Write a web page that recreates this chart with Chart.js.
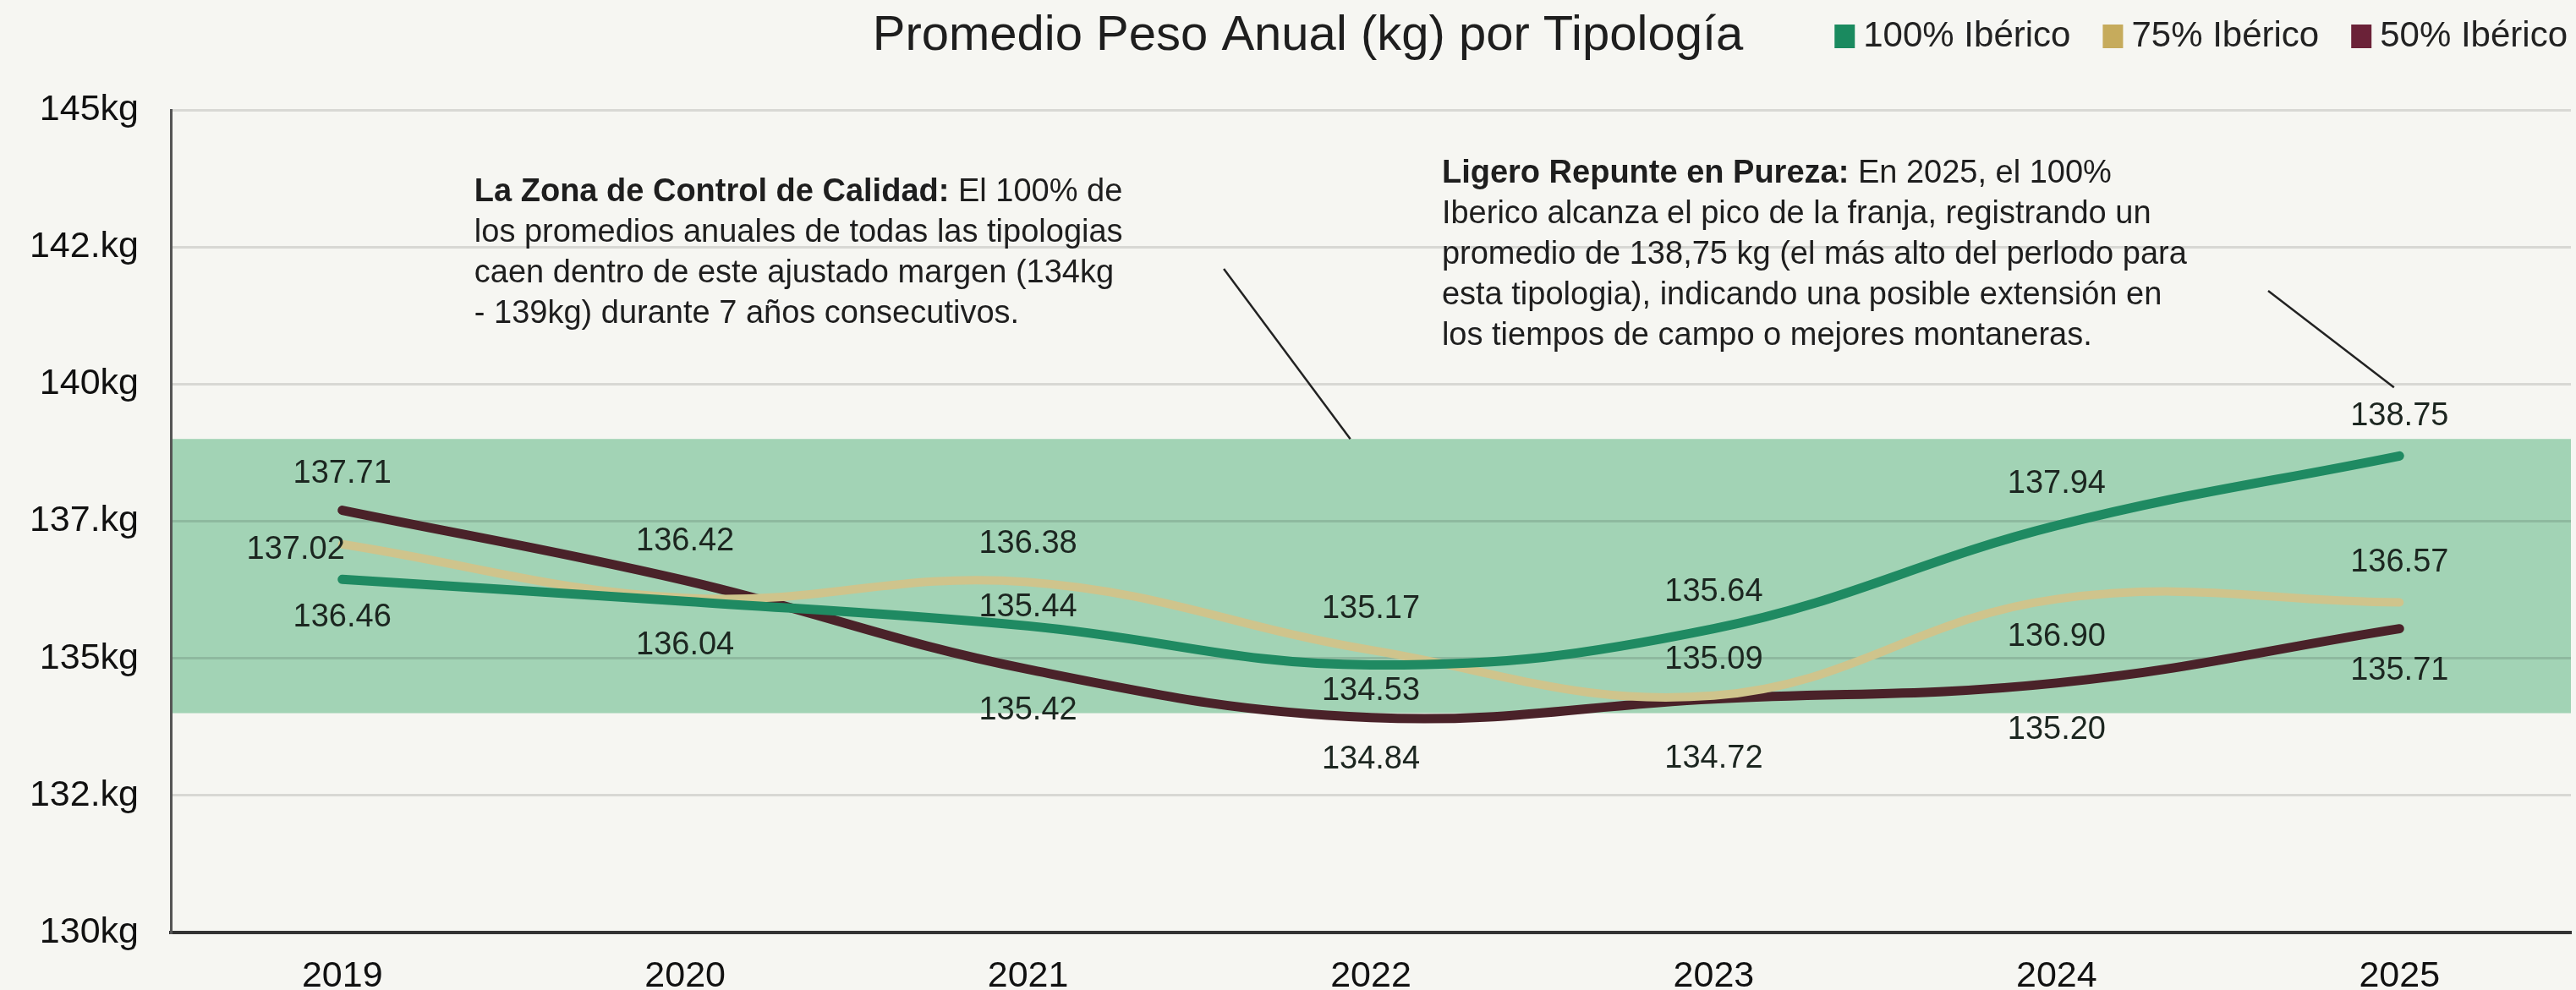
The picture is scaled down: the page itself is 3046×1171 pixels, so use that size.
<!DOCTYPE html>
<html>
<head>
<meta charset="utf-8">
<script src="https://cdn.jsdelivr.net/npm/chart.js@4.4.1/dist/chart.umd.min.js"></script>
<style>
html, body { margin: 0; padding: 0; background: #f6f6f2; }
#wrap { width: 3046px; height: 1171px; position: relative; }
</style>
</head>
<body>
<div id="wrap"><canvas id="chart"></canvas></div>
<script>
// data
const years = ['2019', '2020', '2021', '2022', '2023', '2024', '2025'];
const iberico100 = [136.44, 136.04, 135.59, 134.88, 135.54, 137.42, 138.69];
const iberico75 = [137.08, 136.10, 136.39, 135.15, 134.32, 136.08, 136.02];
const iberico50 = [137.70, 136.42, 134.80, 133.92, 134.26, 134.55, 135.54];

// printed value labels (as they appear in the picture)
const labels100 = ['136.46', '136.04', '135.44', '134.53', '135.64', '137.94', '138.75'];
const labels75 = ['137.02', '', '136.38', '135.17', '135.09', '136.90', '136.57'];
const labels50 = ['137.71', '136.42', '135.42', '134.84', '134.72', '135.20', '135.71'];

const yTickLabels = ['130kg', '132.kg', '135kg', '137.kg', '140kg', '142.kg', '145kg'];
const bandRange = [134, 139];

const FONT = '"Liberation Sans", Arial, sans-serif';
Chart.defaults.font.family = FONT;

// green quality band, drawn under the grid
const bandPlugin = {
    id: 'band',
    beforeDraw(chart) {
        let ctx = chart.ctx, a = chart.chartArea, y = chart.scales.y;
        let top = y.getPixelForValue(bandRange[1]);
        let bottom = y.getPixelForValue(bandRange[0]);
        ctx.save();
        ctx.fillStyle = '#a2d3b5';
        ctx.fillRect(a.left, top, a.right - a.left, bottom - top);
        ctx.restore();
    }
};

// value labels next to the points
const valueLabelPlugin = {
    id: 'valueLabels',
    afterDatasetsDraw(chart, args, opts) {
        let ctx = chart.ctx;
        ctx.save();
        ctx.font = '38px ' + FONT;
        ctx.fillStyle = '#1c2620';
        ctx.textAlign = 'center';
        ctx.textBaseline = 'middle';
        chart.data.datasets.forEach((ds, i) => {
            let meta = chart.getDatasetMeta(i);
            meta.data.forEach((pt, j) => {
                let txt = opts.texts[i][j];
                if (!txt) return;
                let dx = (opts.dx[i] && opts.dx[i][j]) || 0;
                ctx.fillText(txt, pt.x + dx, pt.y + opts.dy[i][j]);
            });
        });
        ctx.restore();
    }
};

// title + legend on one row, notes with leader lines
const headerPlugin = {
    id: 'header',
    afterDraw(chart, args, opts) {
        let ctx = chart.ctx;
        let x = chart.scales.x, y = chart.scales.y;
        ctx.save();
        ctx.textBaseline = 'middle';

        // legend, right aligned
        ctx.font = '42px ' + FONT;
        let right = chart.width - 10;
        let rowY = 43;
        let items = chart.data.datasets.map((ds, i) => ({text: ds.label, color: opts.legendColors[i]}));
        let cursor = right;
        let firstLeft = right;
        for (let i = items.length - 1; i >= 0; i--) {
            let w = ctx.measureText(items[i].text).width;
            let textX = cursor - w;
            let boxX = textX - 10 - 24;
            ctx.fillStyle = '#222';
            ctx.textAlign = 'left';
            ctx.fillText(items[i].text, textX, rowY);
            ctx.fillStyle = items[i].color;
            ctx.fillRect(boxX, rowY - 14, 24, 28);
            firstLeft = boxX;
            cursor = boxX - 38;
        }

        // title, ending a little before the legend
        ctx.font = '58px ' + FONT;
        ctx.fillStyle = '#1e1e1e';
        ctx.textAlign = 'right';
        ctx.fillText(opts.title, firstLeft - 108, rowY);

        // notes
        opts.notes.forEach(n => {
            let left = x.getPixelForValue(n.at[0]);
            let top = y.getPixelForValue(n.at[1]);
            ctx.textAlign = 'left';
            ctx.fillStyle = '#1e1e1e';
            ctx.font = 'bold 38px ' + FONT;
            ctx.fillText(n.bold, left, top);
            let bw = ctx.measureText(n.bold).width;
            ctx.font = '38px ' + FONT;
            n.lines.forEach((line, k) => {
                ctx.fillText(line, k === 0 ? left + bw : left, top + k * 48);
            });
            ctx.strokeStyle = '#222';
            ctx.lineWidth = 2.5;
            ctx.beginPath();
            ctx.moveTo(x.getPixelForValue(n.from[0]), y.getPixelForValue(n.from[1]));
            ctx.lineTo(x.getPixelForValue(n.to[0]), y.getPixelForValue(n.to[1]));
            ctx.stroke();
        });
        ctx.restore();
    }
};

let ctx = document.getElementById('chart').getContext('2d');
let chart = new Chart(ctx, {
    type: 'line',
    data: {
        labels: years,
        datasets: [
            {label: '100% Ibérico', data: iberico100, borderColor: '#1f8a62', borderWidth: 11},
            {label: '75% Ibérico', data: iberico75, borderColor: '#cfc48c', borderWidth: 10},
            {label: '50% Ibérico', data: iberico50, borderColor: '#4a2229', borderWidth: 11}
        ]
    },
    options: {
        responsive: true,
        maintainAspectRatio: false,
        animation: false,
        layout: {padding: {top: 130, right: 6, left: 0, bottom: 0}},
        elements: {
            line: {tension: 0.4, borderCapStyle: 'round', fill: false},
            point: {radius: 0, hoverRadius: 0}
        },
        scales: {
            x: {
                offset: true,
                grid: {display: false},
                border: {display: true, color: '#333', width: 4},
                ticks: {font: {size: 43}, color: '#111', padding: 18},
                afterFit(scale) { scale.height = 68; }
            },
            y: {
                min: 130,
                max: 145,
                grid: {color: 'rgba(0,0,0,0.12)', lineWidth: 3, drawTicks: false},
                border: {display: true, color: '#555', width: 3},
                ticks: {
                    stepSize: 2.5,
                    font: {size: 43},
                    color: '#111',
                    padding: 38,
                    callback: (v, i) => yTickLabels[i]
                },
                afterFit(scale) { scale.width = 202; }
            }
        },
        plugins: {
            legend: {display: false},
            tooltip: {enabled: false},
            valueLabels: {
                texts: [labels100, labels75, labels50],
                dy: [
                    [45, 52, -22, 31, -43, -49, -47],
                    [7, 0, -45, -48, -42, 45, -47],
                    [-43, -46, 49, 50, 71, 56, 50]
                ],
                dx: [null, [-55, 0, 0, 0, 0, 0, 0], null]
            },
            header: {
                title: 'Promedio Peso Anual (kg) por Tipología',
                legendColors: ['#1a8a5f', '#c6ab5c', '#6b2238'],
                notes: [
                    {
                        bold: 'La Zona de Control de Calidad:',
                        lines: [' El 100% de', 'los promedios anuales de todas las tipologias', 'caen dentro de este ajustado margen (134kg', '- 139kg) durante 7 años consecutivos.'],
                        at: [0.385, 143.5],
                        from: [2.571, 142.1],
                        to: [2.94, 139]
                    },
                    {
                        bold: 'Ligero Repunte en Pureza:',
                        lines: [' En 2025, el 100%', 'Iberico alcanza el pico de la franja, registrando un', 'promedio de 138,75 kg (el más alto del perlodo para', 'esta tipologia), indicando una posible extensión en', 'los tiempos de campo o mejores montaneras.'],
                        at: [3.207, 143.84],
                        from: [5.617, 141.7],
                        to: [5.984, 139.94]
                    }
                ]
            }
        }
    },
    plugins: [bandPlugin, valueLabelPlugin, headerPlugin]
});
</script>
</body>
</html>
